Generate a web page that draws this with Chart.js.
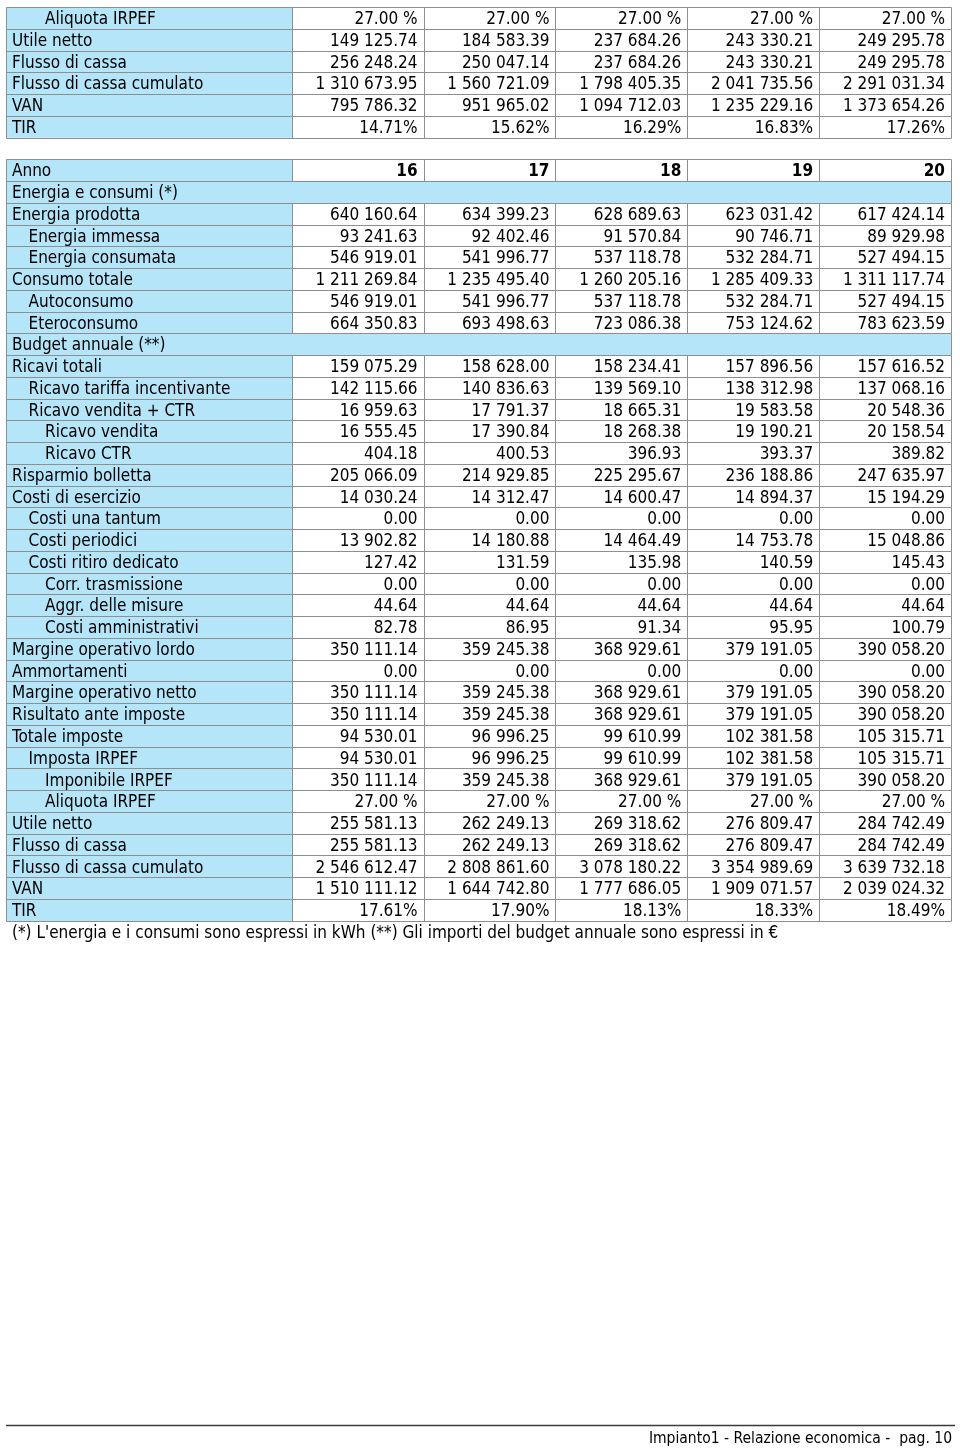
<!DOCTYPE html>
<html><head><meta charset="utf-8">
<script src="https://cdn.jsdelivr.net/npm/chart.js@4/dist/chart.umd.min.js"></script>
<style>html,body{margin:0;padding:0;background:#fff}canvas{display:block}</style>
</head><body>
<canvas id="c" width="960" height="1449"></canvas>
<script>
// ---------- DATA ----------
// Upper block (continuation of the previous years' table, columns 11..15)
const topLabels = ["Aliquota IRPEF","Utile netto","Flusso di cassa","Flusso di cassa cumulato","VAN","TIR"];
const topIndent = [2,0,0,0,0,0];
const topKind   = ["pctS","num","num","num","num","pct"];
const top11 = [27.00,149125.74,256248.24,1310673.95,795786.32,14.71];
const top12 = [27.00,184583.39,250047.14,1560721.09,951965.02,15.62];
const top13 = [27.00,237684.26,237684.26,1798405.35,1094712.03,16.29];
const top14 = [27.00,243330.21,243330.21,2041735.56,1235229.16,16.83];
const top15 = [27.00,249295.78,249295.78,2291031.34,1373654.26,17.26];

// Lower block (years 16..20)
const years = [16,17,18,19,20];
const bottomLabels = ["Anno","Energia e consumi (*)","Energia prodotta","Energia immessa","Energia consumata",
 "Consumo totale","Autoconsumo","Eteroconsumo","Budget annuale (**)","Ricavi totali","Ricavo tariffa incentivante",
 "Ricavo vendita + CTR","Ricavo vendita","Ricavo CTR","Risparmio bolletta","Costi di esercizio","Costi una tantum",
 "Costi periodici","Costi ritiro dedicato","Corr. trasmissione","Aggr. delle misure","Costi amministrativi",
 "Margine operativo lordo","Ammortamenti","Margine operativo netto","Risultato ante imposte","Totale imposte",
 "Imposta IRPEF","Imponibile IRPEF","Aliquota IRPEF","Utile netto","Flusso di cassa","Flusso di cassa cumulato","VAN","TIR"];
const bottomIndent = [0,0,0,1,1,0,1,1,0,0,1,1,2,2,0,0,1,1,1,2,2,2,0,0,0,0,0,1,2,2,0,0,0,0,0];
const bottomKind = ["year","sec","num","num","num","num","num","num","sec","num","num","num","num","num","num","num","num",
 "num","num","num","num","num","num","num","num","num","num","num","num","pctS","num","num","num","num","pct"];
const col16 = [null,null,640160.64,93241.63,546919.01,1211269.84,546919.01,664350.83,null,159075.29,142115.66,16959.63,16555.45,404.18,205066.09,14030.24,0,13902.82,127.42,0,44.64,82.78,350111.14,0,350111.14,350111.14,94530.01,94530.01,350111.14,27,255581.13,255581.13,2546612.47,1510111.12,17.61];
const col17 = [null,null,634399.23,92402.46,541996.77,1235495.40,541996.77,693498.63,null,158628.00,140836.63,17791.37,17390.84,400.53,214929.85,14312.47,0,14180.88,131.59,0,44.64,86.95,359245.38,0,359245.38,359245.38,96996.25,96996.25,359245.38,27,262249.13,262249.13,2808861.60,1644742.80,17.90];
const col18 = [null,null,628689.63,91570.84,537118.78,1260205.16,537118.78,723086.38,null,158234.41,139569.10,18665.31,18268.38,396.93,225295.67,14600.47,0,14464.49,135.98,0,44.64,91.34,368929.61,0,368929.61,368929.61,99610.99,99610.99,368929.61,27,269318.62,269318.62,3078180.22,1777686.05,18.13];
const col19 = [null,null,623031.42,90746.71,532284.71,1285409.33,532284.71,753124.62,null,157896.56,138312.98,19583.58,19190.21,393.37,236188.86,14894.37,0,14753.78,140.59,0,44.64,95.95,379191.05,0,379191.05,379191.05,102381.58,102381.58,379191.05,27,276809.47,276809.47,3354989.69,1909071.57,18.33];
const col20 = [null,null,617424.14,89929.98,527494.15,1311117.74,527494.15,783623.59,null,157616.52,137068.16,20548.36,20158.54,389.82,247635.97,15194.29,0,15048.86,145.43,0,44.64,100.79,390058.20,0,390058.20,390058.20,105315.71,105315.71,390058.20,27,284742.49,284742.49,3639732.18,2039024.32,18.49];

const footnote = "(*) L'energia e i consumi sono espressi in kWh (**) Gli importi del budget annuale sono espressi in €";
const pageFooter = "Impianto1 - Relazione economica -  pag. 10";

// ---------- BUILD ROWS ----------
const topCols = [top11, top12, top13, top14, top15];
const botCols = [col16, col17, col18, col19, col20];
const rows = [];
topLabels.forEach((l, i) => rows.push({label:l, indent:topIndent[i], kind:topKind[i], block:0, vals:topCols.map(c => c[i])}));
rows.push({label:"", kind:"gap", block:-1});
bottomLabels.forEach((l, i) => rows.push({label:l, indent:bottomIndent[i], kind:bottomKind[i], block:1,
  vals: bottomKind[i] === "year" ? years.slice() : botCols.map(c => c[i])}));
rows.push({label:footnote, kind:"note", block:-1});

const LBL = 286/132;       // label column width in column units
const TOTAL = LBL + 5;
const BLUE = "#b5e5f9";
const GRID = "#8e8e8e";
const FAM = "'DejaVu Sans Condensed','DejaVu Sans',sans-serif";

function fmtNum(v) {
  const s = Math.abs(v).toFixed(2);
  const [ip, dp] = s.split(".");
  return (v < 0 ? "-" : "") + ip.replace(/\B(?=(\d{3})+(?!\d))/g, " ") + "." + dp;
}
function fmt(v, kind) {
  if (v === null || v === undefined) return "";
  if (kind === "year") return String(v);
  if (kind === "pctS") return v.toFixed(2) + " %";
  if (kind === "pct") return v.toFixed(2) + "%";
  return fmtNum(v);
}

const tablePlugin = {
  id: "tablePlugin",
  afterDatasetsDraw(chart) {
    const ctx = chart.ctx, xs = chart.scales.x, ys = chart.scales.y;
    const band = ys.height / rows.length;
    const x0 = xs.getPixelForValue(0), xT = xs.getPixelForValue(TOTAL);
    const snap = v => Math.round(v) + 0.5;
    ctx.save();
    // grid lines
    ctx.strokeStyle = GRID; ctx.lineWidth = 1;
    rows.forEach((r, i) => {
      if (r.block < 0) return;
      const yc = ys.getPixelForValue(i);
      const yt = snap(yc - band/2), yb = snap(yc + band/2);
      ctx.beginPath();
      ctx.moveTo(snap(x0), yt); ctx.lineTo(snap(xT), yt);
      ctx.moveTo(snap(x0), yb); ctx.lineTo(snap(xT), yb);
      const vx = r.kind === "sec" ? [0, TOTAL] : [0, LBL, LBL+1, LBL+2, LBL+3, LBL+4, TOTAL];
      vx.forEach(u => { const px = snap(xs.getPixelForValue(u)); ctx.moveTo(px, yt); ctx.lineTo(px, yb); });
      ctx.stroke();
    });
    // texts
    ctx.fillStyle = "#000"; ctx.textBaseline = "alphabetic";
    rows.forEach((r, i) => {
      if (r.kind === "gap") return;
      const yb = ys.getPixelForValue(i) + 6.2;
      ctx.font = "17px " + FAM;
      ctx.textAlign = "left";
      ctx.fillText(r.label, x0 + 6 + (r.indent || 0) * 16.5, yb);
      if (!r.vals) return;
      ctx.textAlign = "right";
      if (r.kind === "year") ctx.font = "bold 17px " + FAM;
      r.vals.forEach((v, c) => {
        const t = fmt(v, r.kind);
        if (t) ctx.fillText(t, xs.getPixelForValue(LBL + c + 1) - 6, yb);
      });
    });
    // page footer
    ctx.strokeStyle = "#3a3a3a"; ctx.lineWidth = 1.5;
    ctx.beginPath(); ctx.moveTo(6, 1425.5); ctx.lineTo(955, 1425.5); ctx.stroke();
    ctx.font = "15.5px " + FAM; ctx.textAlign = "right"; ctx.fillStyle = "#000";
    ctx.fillText(pageFooter, 952, 1443);
    ctx.restore();
  }
};

new Chart(document.getElementById("c"), {
  type: "bar",
  data: {
    labels: rows.map((r, i) => "r" + i),
    datasets: [{
      data: rows.map(r => r.block < 0 ? null : (r.kind === "sec" ? [0, TOTAL] : [0, LBL])),
      backgroundColor: BLUE,
      borderWidth: 0,
      barPercentage: 1,
      categoryPercentage: 1
    }]
  },
  options: {
    indexAxis: "y",
    responsive: false,
    animation: false,
    devicePixelRatio: 1,
    layout: { padding: { left: 6, right: 9, top: 7, bottom: 1449 - (7 + 43 * 21.755) } },
    plugins: { legend: { display: false }, tooltip: { enabled: false } },
    scales: {
      x: { type: "linear", min: 0, max: TOTAL, display: false },
      y: { type: "category", display: false, offset: true }
    }
  },
  plugins: [tablePlugin]
});
</script>
</body></html>
